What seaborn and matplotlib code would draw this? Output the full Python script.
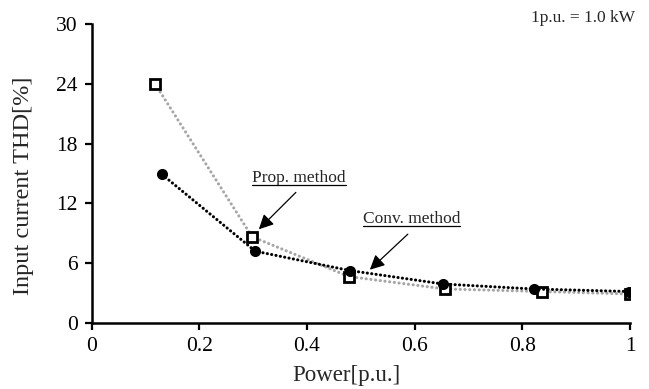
import pandas as pd
import matplotlib.pyplot as plt
from matplotlib.lines import Line2D
import seaborn as sns

# values
power_prop = [0.118, 0.298, 0.478, 0.657, 0.836, 1.0]
thd_prop = [24.0, 8.65, 4.65, 3.4, 3.15, 2.9]
power_conv = [0.131, 0.304, 0.480, 0.653, 0.822, 0.998]
thd_conv = [14.9, 7.2, 5.25, 3.9, 3.4, 3.15]

y_ticks = [0, 6, 12, 18, 24, 30]
x_ticks = [0, 0.2, 0.4, 0.6, 0.8, 1.0]
x_ticklabels = ["0", "0.2", "0.4", "0.6", "0.8", "1"]

prop = pd.DataFrame({"power": power_prop, "thd": thd_prop})
conv = pd.DataFrame({"power": power_conv, "thd": thd_conv})

sns.set_style("ticks")
plt.rcParams["font.family"] = ["Liberation Serif", "DejaVu Serif"]

fig = plt.figure(figsize=(6.49, 3.89), dpi=100)
ax = fig.add_axes([0.141, 0.170, 0.830, 0.768])

sns.lineplot(data=prop, x="power", y="thd", ax=ax, color="#a6a6a6",
             linewidth=2.2, linestyle=(0, (0.05, 1.5)), dash_capstyle="round",
             marker="s", markersize=7, markerfacecolor="white",
             markeredgecolor="black", markeredgewidth=2)
sns.lineplot(data=conv, x="power", y="thd", ax=ax, color="black",
             linewidth=2.2, linestyle=(0, (0.05, 1.4)), dash_capstyle="round",
             marker="o", markersize=8, markerfacecolor="black",
             markeredgecolor="black", markeredgewidth=0)

ax.set_xlim(0, 1)
ax.set_ylim(0, 30)
ax.set_xticks(x_ticks)
ax.set_xticklabels(x_ticklabels)
ax.set_yticks(y_ticks)
ax.tick_params(labelsize=15.5, width=1.6, length=5, pad=5, color="black",
               labelcolor="black", direction="out")
for side in ["left", "bottom"]:
    ax.spines[side].set_linewidth(1.8)
    ax.spines[side].set_color("black")
sns.despine(ax=ax)

ax.set_xlabel("Power[p.u.]", fontsize=16.5)
ax.set_ylabel("Input current THD[%]", fontsize=17.5)
ax.xaxis.set_label_coords(0.473, -0.142)
ax.yaxis.set_label_coords(-0.106, 0.458)

fig.text(0.979, 0.954, "1p.u. = 1.0 kW", fontsize=12.5, ha="right", va="center")

arrow = dict(arrowstyle="-|>", color="black", lw=0.9, mutation_scale=22)
labels = [
    ("Prop. method", (0.385, 14.5), (0.383, 13.3), (0.307, 9.2)),
    ("Conv. method", (0.594, 10.4), (0.591, 9.1), (0.513, 5.15)),
]
texts = []
for label, pos, tail, head in labels:
    t = ax.text(pos[0], pos[1], label, fontsize=12.5, ha="center", va="center")
    texts.append(t)
    ax.annotate("", xy=head, xytext=tail, arrowprops=arrow)

# underline the annotation texts
fig.canvas.draw()
r = fig.canvas.get_renderer()
for t in texts:
    bb = t.get_window_extent(renderer=r).transformed(fig.transFigure.inverted())
    yy = bb.y0 + 0.004
    fig.add_artist(Line2D([bb.x0, bb.x1], [yy, yy], color="black", lw=0.9,
                          transform=fig.transFigure))

fig.savefig("out.png", dpi=100)
